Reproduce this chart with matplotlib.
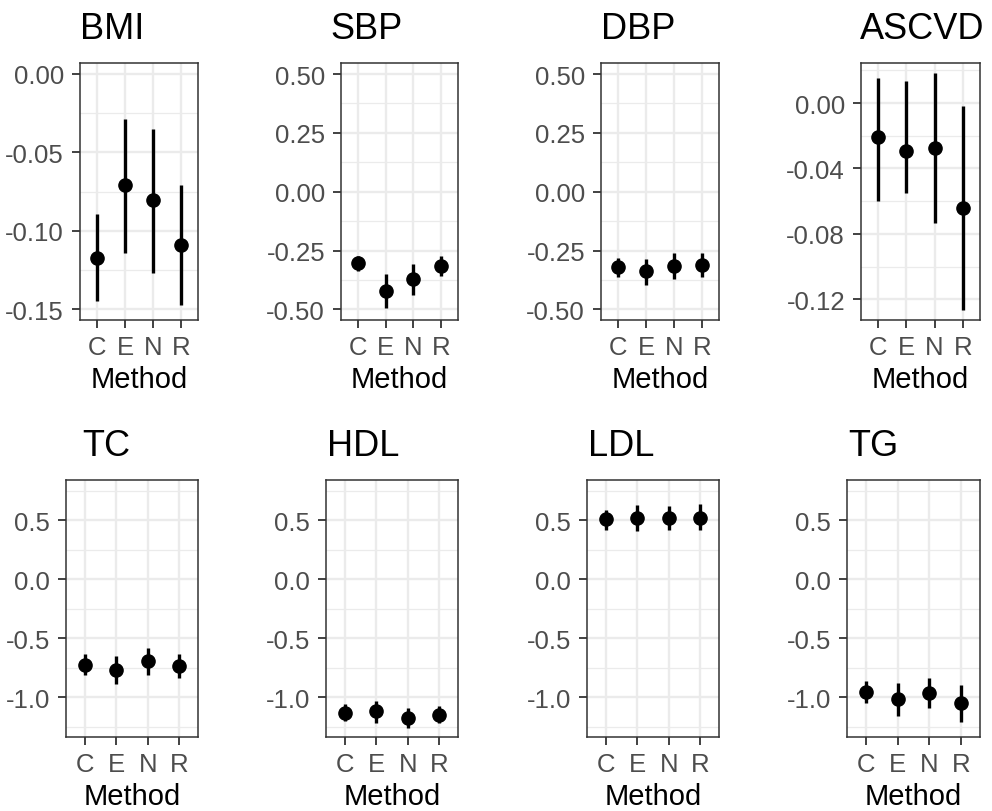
import matplotlib
matplotlib.use("Agg")
import matplotlib.pyplot as plt
from matplotlib.ticker import FixedLocator, FixedFormatter

plt.rcParams['font.family'] = ['Liberation Sans', 'DejaVu Sans']

methods = ["C", "E", "N", "R"]
outcomes = ["BMI", "SBP", "DBP", "ASCVD", "TC", "HDL", "LDL", "TG"]

bmi_est = [-0.117, -0.071, -0.080, -0.109]
bmi_lo = [-0.145, -0.114, -0.127, -0.147]
bmi_hi = [-0.089, -0.029, -0.035, -0.071]

sbp_est = [-0.301, -0.422, -0.372, -0.316]
sbp_lo = [-0.335, -0.493, -0.440, -0.358]
sbp_hi = [-0.272, -0.351, -0.309, -0.273]

dbp_est = [-0.320, -0.337, -0.316, -0.311]
dbp_lo = [-0.362, -0.398, -0.372, -0.361]
dbp_hi = [-0.280, -0.284, -0.262, -0.262]

ascvd_est = [-0.0210, -0.0292, -0.0273, -0.0643]
ascvd_lo = [-0.0602, -0.0551, -0.0731, -0.1267]
ascvd_hi = [0.0153, 0.0133, 0.0184, -0.0016]

tc_est = [-0.727, -0.770, -0.693, -0.736]
tc_lo = [-0.815, -0.891, -0.815, -0.835]
tc_hi = [-0.637, -0.651, -0.580, -0.637]

hdl_est = [-1.135, -1.121, -1.178, -1.155]
hdl_lo = [-1.207, -1.216, -1.264, -1.221]
hdl_hi = [-1.063, -1.034, -1.092, -1.078]

ldl_est = [0.508, 0.517, 0.517, 0.523]
ldl_lo = [0.415, 0.410, 0.415, 0.417]
ldl_hi = [0.590, 0.627, 0.620, 0.636]

tg_est = [-0.955, -1.017, -0.969, -1.054]
tg_lo = [-1.050, -1.160, -1.096, -1.210]
tg_hi = [-0.861, -0.884, -0.841, -0.898]

bmi_ticks = [0.00, -0.05, -0.10, -0.15]
bmi_labels = ["0.00", "-0.05", "-0.10", "-0.15"]
bp_ticks = [0.50, 0.25, 0.00, -0.25, -0.50]
bp_labels = ["0.50", "0.25", "0.00", "-0.25", "-0.50"]
ascvd_ticks = [0.00, -0.04, -0.08, -0.12]
ascvd_labels = ["0.00", "-0.04", "-0.08", "-0.12"]
lip_ticks = [0.5, 0.0, -0.5, -1.0]
lip_labels = ["0.5", "0.0", "-0.5", "-1.0"]

W, H = 992, 812
fig = plt.figure(figsize=(W / 100, H / 100), dpi=100)

panels = [
    ((bmi_est, bmi_lo, bmi_hi), bmi_ticks, bmi_labels, [-0.025, -0.075, -0.125], (-0.1568, 0.0070), (80, 198, 64, 321), 80),
    ((sbp_est, sbp_lo, sbp_hi), bp_ticks, bp_labels, [0.375, 0.125, -0.125, -0.375], (-0.545, 0.547), (341, 458, 64, 321), 330),
    ((dbp_est, dbp_lo, dbp_hi), bp_ticks, bp_labels, [0.375, 0.125, -0.125, -0.375], (-0.545, 0.547), (601, 719, 64, 321), 601),
    ((ascvd_est, ascvd_lo, ascvd_hi), ascvd_ticks, ascvd_labels, [0.02, -0.02, -0.06, -0.10], (-0.1327, 0.0245), (861, 980, 64, 321), 860),
    ((tc_est, tc_lo, tc_hi), lip_ticks, lip_labels, [0.75, 0.25, -0.25, -0.75, -1.25], (-1.339, 0.842), (66, 198, 481, 738), 82),
    ((hdl_est, hdl_lo, hdl_hi), lip_ticks, lip_labels, [0.75, 0.25, -0.25, -0.75, -1.25], (-1.339, 0.842), (326, 458, 481, 738), 327),
    ((ldl_est, ldl_lo, ldl_hi), lip_ticks, lip_labels, [0.75, 0.25, -0.25, -0.75, -1.25], (-1.339, 0.842), (587, 719, 481, 738), 588),
    ((tg_est, tg_lo, tg_hi), lip_ticks, lip_labels, [0.75, 0.25, -0.25, -0.75, -1.25], (-1.339, 0.842), (847, 980, 481, 738), 848),
]

xpos = list(range(1, len(methods) + 1))

for name, (data, ticks, labels, minor, ylim, px, tx) in zip(outcomes, panels):
    est, lo, hi = data
    x0, x1, y0, y1 = px
    ax = fig.add_axes([x0 / W, 1 - y1 / H, (x1 - x0) / W, (y1 - y0) / H])
    ax.set_facecolor("white")
    ax.set_xlim(0.4, len(methods) + 0.6)
    ax.set_ylim(*ylim)
    ax.yaxis.set_major_locator(FixedLocator(ticks))
    ax.yaxis.set_major_formatter(FixedFormatter(labels))
    ax.yaxis.set_minor_locator(FixedLocator(minor))
    ax.set_xticks(xpos)
    ax.set_xticklabels(methods)
    ax.grid(True, which="major", color="#EBEBEB", lw=1.7, zorder=0)
    ax.grid(True, which="minor", axis="y", color="#EBEBEB", lw=0.9, zorder=0)
    ax.set_axisbelow(True)
    for sp in ax.spines.values():
        sp.set_color("#333333")
        sp.set_linewidth(1.1)
    ax.tick_params(axis="both", which="major", length=5.5, width=1.3, color="#333333",
                   labelcolor="#4D4D4D", labelsize=18.5)
    ax.tick_params(axis="y", which="major", pad=6)
    ax.tick_params(axis="x", which="major", pad=5)
    ax.tick_params(axis="y", which="minor", length=0)
    ax.vlines(xpos, lo, hi, color="black", lw=2.4, zorder=3)
    ax.plot(xpos, est, "o", color="black", ms=9.5, zorder=4)
    ax.set_xlabel("Method", fontsize=21, color="black", labelpad=4.5)
    fig.text(tx / W, 1 - (y0 - 25) / H, name, fontsize=26, color="black",
             ha="left", va="baseline")

fig.savefig("out.png", dpi=100, facecolor="white")
